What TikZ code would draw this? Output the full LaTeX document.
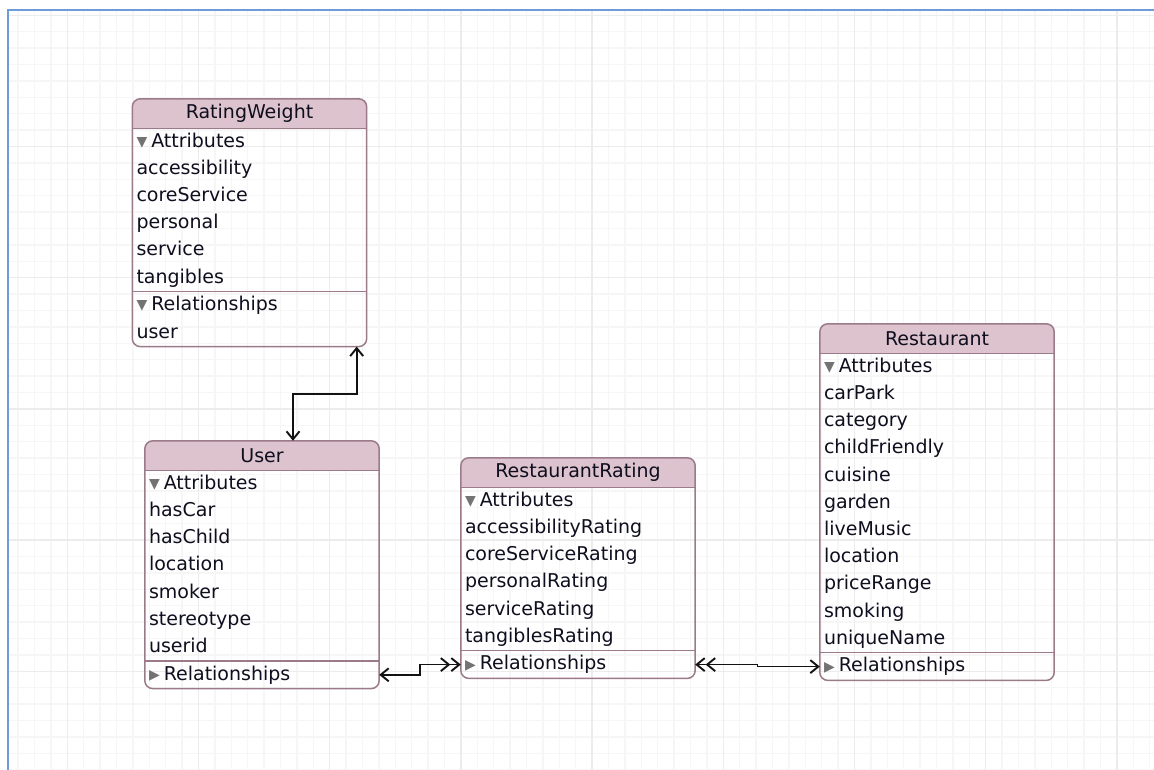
\documentclass[tikz,border=0pt]{standalone}
\usepackage{fontspec}
\setmainfont{DejaVu Sans}
\usepackage{xcolor}
\usetikzlibrary{arrows.meta, positioning, backgrounds, calc}
\definecolor{headpink}{RGB}{221,195,205}
\definecolor{framemauve}{RGB}{155,122,138}
\definecolor{gridminor}{RGB}{246,246,246}
\definecolor{gridmajor}{RGB}{236,236,236}
\definecolor{winblue}{RGB}{110,156,216}
\definecolor{textink}{RGB}{14,14,30}
\definecolor{trigray}{RGB}{115,115,115}
\definecolor{linkink}{RGB}{18,18,18}
\newcommand{\attrtri}{\raisebox{1pt}{\fontsize{14}{14}\selectfont\color{trigray}▼}\hspace{4pt}}
\newcommand{\reltri}{\raisebox{0.5pt}{\fontsize{14}{14}\selectfont\color{trigray}▶}\hspace{4pt}}
% header fill, outline and section lines of one entity (#1 = node name)
\newcommand{\entityframe}[1]{%
  \begin{scope}[on background layer]
    \fill[headpink, rounded corners=8pt] (#1.north west) rectangle (#1.south east);
    \fill[headpink] (#1.west) rectangle (#1.south east);
  \end{scope}
  \draw[framemauve, line width=1.3pt] (#1.south west) -- (#1.south east);
  \draw[framemauve, line width=1.3pt] (#1-rel.north west) -- (#1-rel.north east);
  \draw[framemauve, line width=1.5pt, rounded corners=8pt] (#1.north west) rectangle (#1-rel.south east);
}

\begin{document}
\begin{tikzpicture}[x=1pt, y=-1pt,
  head/.style={text width=224pt, inner xsep=5pt, inner ysep=0pt, minimum height=29pt,
               align=center, font=\fontsize{19}{22}\selectfont, text=textink},
  rows/.style={text width=226pt, inner xsep=4pt, inner ysep=0pt, align=left,
               font=\fontsize{19}{27.2}\selectfont, text=textink,
               execute at begin node=\rule{0pt}{18.8pt},
               execute at end node=\rule[-8.4pt]{0pt}{8.4pt}},
  link/.style={line width=1.7pt, color=linkink, line join=miter},
  >={Straight Barb[length=8pt, width=13pt, line width=1.9pt]}
]
  \useasboundingbox (0,0) rectangle (1154,770);

  % canvas grid
  \begin{scope}[on background layer]
    \foreach \k in {0,...,69}
      \draw[gridminor, line width=1.4pt] ({18+16.4*\k},11) -- ({18+16.4*\k},770);
    \foreach \k in {0,...,46}
      \draw[gridminor, line width=1.4pt] (9,{15.3+16.4*\k}) -- (1154,{15.3+16.4*\k});
    \foreach \k in {0,...,8}
      \draw[gridmajor, line width=1.4pt] ({67.2+131.2*\k},11) -- ({67.2+131.2*\k},770);
    \foreach \k in {0,...,5}
      \draw[gridmajor, line width=1.4pt] (9,{15.3+131.2*\k}) -- (1154,{15.3+131.2*\k});
  \end{scope}
  \draw[winblue, line width=2pt] (8,770) -- (8,10) -- (1154,10);

  % entities
  \node[head] (rw) at (249.5,113.5) {RatingWeight};
  \node[rows, below=0pt of rw] (rw-attr) {\attrtri Attributes\\accessibility\\coreService\\personal\\service\\tangibles};
  \node[rows, below=0pt of rw-attr] (rw-rel) {\attrtri Relationships\\user};

  \node[head] (user) at (262,455.5) {User};
  \node[rows, below=0pt of user] (user-attr) {\attrtri Attributes\\hasCar\\hasChild\\location\\smoker\\stereotype\\userid};
  \node[rows, below=0pt of user-attr] (user-rel) {\reltri Relationships};

  \node[head] (rr) at (578,472.5) {RestaurantRating};
  \node[rows, below=0pt of rr] (rr-attr) {\attrtri Attributes\\accessibilityRating\\coreServiceRating\\personalRating\\serviceRating\\tangiblesRating};
  \node[rows, below=0pt of rr-attr] (rr-rel) {\reltri Relationships};

  \node[head] (rest) at (937,338.5) {Restaurant};
  \node[rows, below=0pt of rest] (rest-attr) {\attrtri Attributes\\carPark\\category\\childFriendly\\cuisine\\garden\\liveMusic\\location\\priceRange\\smoking\\uniqueName};
  \node[rows, below=0pt of rest-attr] (rest-rel) {\reltri Relationships};

  \entityframe{rw}
  \entityframe{user}
  \entityframe{rr}
  \entityframe{rest}

  % relationships
  \coordinate (userTop) at ([xshift=31pt]user.north);
  \coordinate (rwBottom) at ([xshift=-10pt]rw-rel.south east);
  \draw[link, <->] (userTop) |- ($(userTop)!.5!(rwBottom)$) -| (rwBottom);
  \draw[link, <->>] (user-rel.east) -| ($(user-rel.east)!.5!(rr-rel.west)$) |- (rr-rel.west);
  \draw[link, <<->] (rr-rel.east) -| ($(rr-rel.east)!.5!(rest-rel.west)$) |- (rest-rel.west);
\end{tikzpicture}
\end{document}
